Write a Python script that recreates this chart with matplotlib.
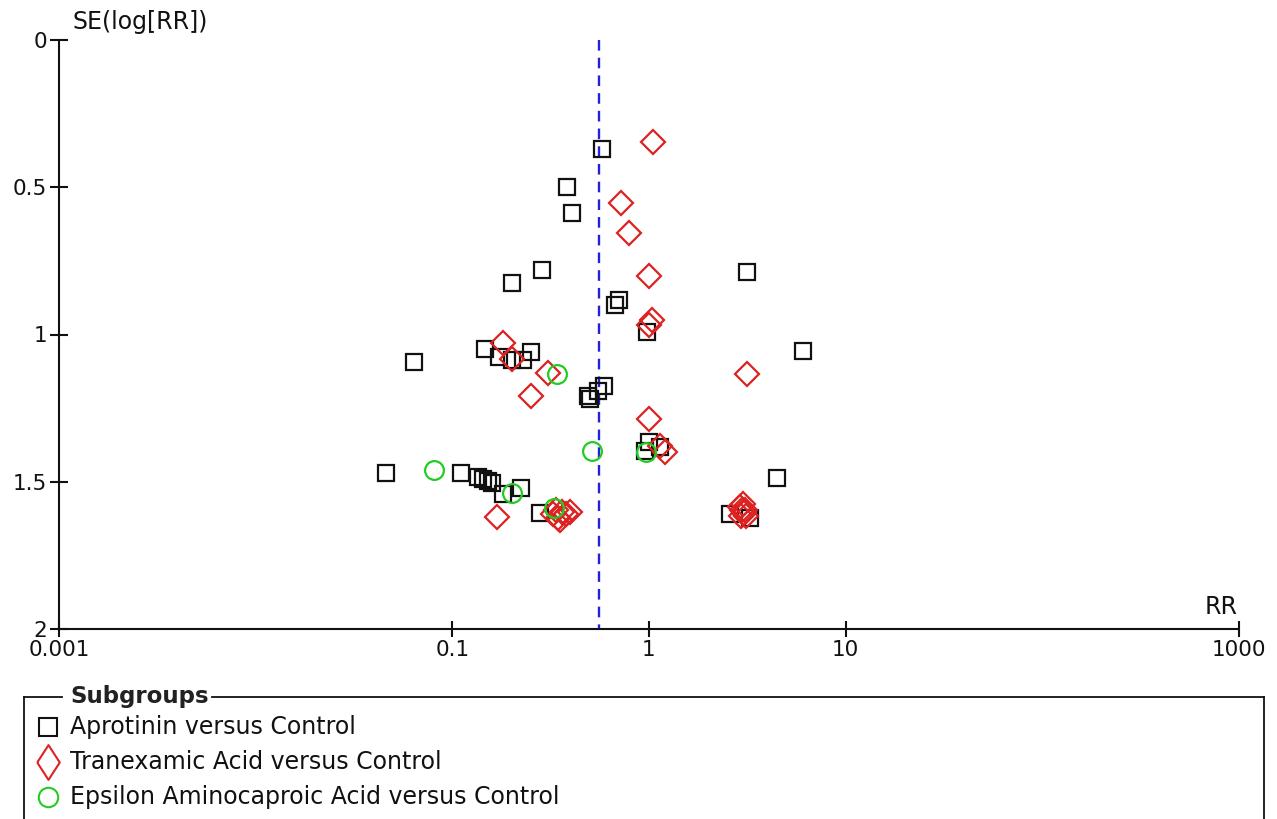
import matplotlib
matplotlib.use("Agg")
import matplotlib.pyplot as plt
from matplotlib.lines import Line2D

# ---------------- data (RR, SE(log RR)) ----------------
apro_rr = [0.577, 0.383, 0.406, 0.286, 0.201, 3.15, 0.703, 0.671, 0.973, 6.07,
           0.0638, 0.146, 0.173, 0.201, 0.229, 0.251, 0.590, 0.550, 0.490, 0.501,
           1.00, 0.955, 1.14, 0.046, 0.111, 0.135, 0.143, 0.152, 0.159, 0.181,
           0.223, 0.279, 4.48, 2.58, 3.27]
apro_se = [0.370, 0.499, 0.587, 0.781, 0.825, 0.788, 0.883, 0.900, 0.993, 1.056,
           1.094, 1.050, 1.076, 1.087, 1.087, 1.059, 1.175, 1.192, 1.209, 1.219,
           1.365, 1.396, 1.382, 1.470, 1.470, 1.484, 1.491, 1.497, 1.504, 1.542,
           1.521, 1.606, 1.487, 1.610, 1.623]

tran_rr = [1.047, 0.721, 0.791, 1.00, 1.035, 1.00, 0.181, 0.201, 0.306, 3.15,
           0.251, 1.00, 1.14, 1.205, 0.169,
           0.325, 0.345, 0.361, 0.379, 0.397, 0.336, 0.352,
           2.90, 2.97, 3.04, 2.94, 3.08, 3.01, 3.11]
tran_se = [0.346, 0.553, 0.655, 0.801, 0.951, 0.968, 1.029, 1.083, 1.131, 1.134,
           1.209, 1.287, 1.379, 1.399, 1.620,
           1.610, 1.623, 1.603, 1.610, 1.603, 1.596, 1.630,
           1.586, 1.596, 1.606, 1.616, 1.596, 1.576, 1.616]

eaca_rr = [0.340, 0.513, 0.966, 0.0806, 0.201, 0.329]
eaca_se = [1.134, 1.396, 1.399, 1.460, 1.538, 1.589]

pooled_rr = 0.557

x_ticks = [0.001, 0.1, 1, 10, 1000]
x_ticklabels = ["0.001", "0.1", "1", "10", "1000"]
y_ticks = [0, 0.5, 1, 1.5, 2]
y_ticklabels = ["0", "0.5", "1", "1.5", "2"]

group_names = ["Aprotinin versus Control",
               "Tranexamic Acid versus Control",
               "Epsilon Aminocaproic Acid versus Control"]

# ---------------- style ----------------
FS = 15.5
FS_TXT = 17
BLACK = "#111111"
RED = "#DD2222"
GREEN = "#22CC22"
plt.rcParams["font.family"] = ["DejaVu Sans"]

W, H = 1277, 819
fig = plt.figure(figsize=(W / 100, H / 100), dpi=100)
ax = fig.add_axes([59 / W, 1 - 629 / H, (1239 - 59) / W, (629 - 40) / H])

ax.set_xscale("log")
ax.set_xlim(0.001, 1000)
ax.set_ylim(2, 0)

for s in ["top", "right"]:
    ax.spines[s].set_visible(False)
for s in ["left", "bottom"]:
    ax.spines[s].set_linewidth(1.5)
    ax.spines[s].set_color(BLACK)

ax.set_xticks(x_ticks)
ax.set_xticklabels(x_ticklabels)
ax.xaxis.set_minor_locator(matplotlib.ticker.NullLocator())
ax.set_yticks(y_ticks)
ax.set_yticklabels(y_ticklabels)
ax.tick_params(axis="x", direction="inout", length=12, width=1.5, pad=2,
               labelsize=FS, colors=BLACK)
ax.tick_params(axis="y", direction="inout", length=13, width=1.5, pad=2,
               labelsize=FS, colors=BLACK)

# pooled estimate line
ax.plot([pooled_rr, pooled_rr], [0, 2], color="#2222DD", lw=1.7,
        ls=(0, (4.5, 3)), zorder=1)

mew = 1.6
ax.plot(apro_rr, apro_se, ls="none", marker="s", ms=12, mfc="none",
        mec=BLACK, mew=mew, zorder=3, clip_on=False)
ax.plot(tran_rr, tran_se, ls="none", marker="D", ms=12, mfc="none",
        mec=RED, mew=mew, zorder=4, clip_on=False)
ax.plot(eaca_rr, eaca_se, ls="none", marker="o", ms=13.5, mfc="none",
        mec=GREEN, mew=mew, zorder=5, clip_on=False)

# axis titles
fig.text(72 / W, 1 - 22 / H, "SE(log[RR])", fontsize=FS_TXT, color=BLACK,
         ha="left", va="center")
fig.text(1238 / W, 1 - 607 / H, "RR", fontsize=FS_TXT, color=BLACK,
         ha="right", va="center")

# ---------------- legend box ----------------
lx0, lx1 = 24 / W, 1264 / W
ly_top = 1 - 697 / H
ly_bot = -0.01
lw_box = 1.3
fig.add_artist(Line2D([lx0, 62 / W], [ly_top, ly_top], color=BLACK, lw=lw_box))
fig.add_artist(Line2D([212 / W, lx1], [ly_top, ly_top], color=BLACK, lw=lw_box))
fig.add_artist(Line2D([lx0, lx0], [ly_top, ly_bot], color=BLACK, lw=lw_box))
fig.add_artist(Line2D([lx1, lx1], [ly_top, ly_bot], color=BLACK, lw=lw_box))
fig.text(70 / W, ly_top, "Subgroups", fontsize=FS_TXT - 0.5, fontweight="bold",
         color="#222222", ha="left", va="center")

tall_diamond = [(-0.65, 0), (0, 1), (0.65, 0), (0, -1), (-0.65, 0)]
leg_markers = [dict(marker="s", ms=12.5, mec=BLACK),
               dict(marker=tall_diamond, ms=25, mec=RED),
               dict(marker="o", ms=14, mec=GREEN)]
rows_y = [727, 762, 797]
for name, mk, ry in zip(group_names, leg_markers, rows_y):
    yy = 1 - ry / H
    fig.add_artist(Line2D([48 / W], [yy], ls="none", mfc="none", mew=1.5, **mk))
    fig.text(70 / W, yy, name, fontsize=FS_TXT, color=BLACK, ha="left", va="center")

fig.savefig("out.png", dpi=100, facecolor="white")
